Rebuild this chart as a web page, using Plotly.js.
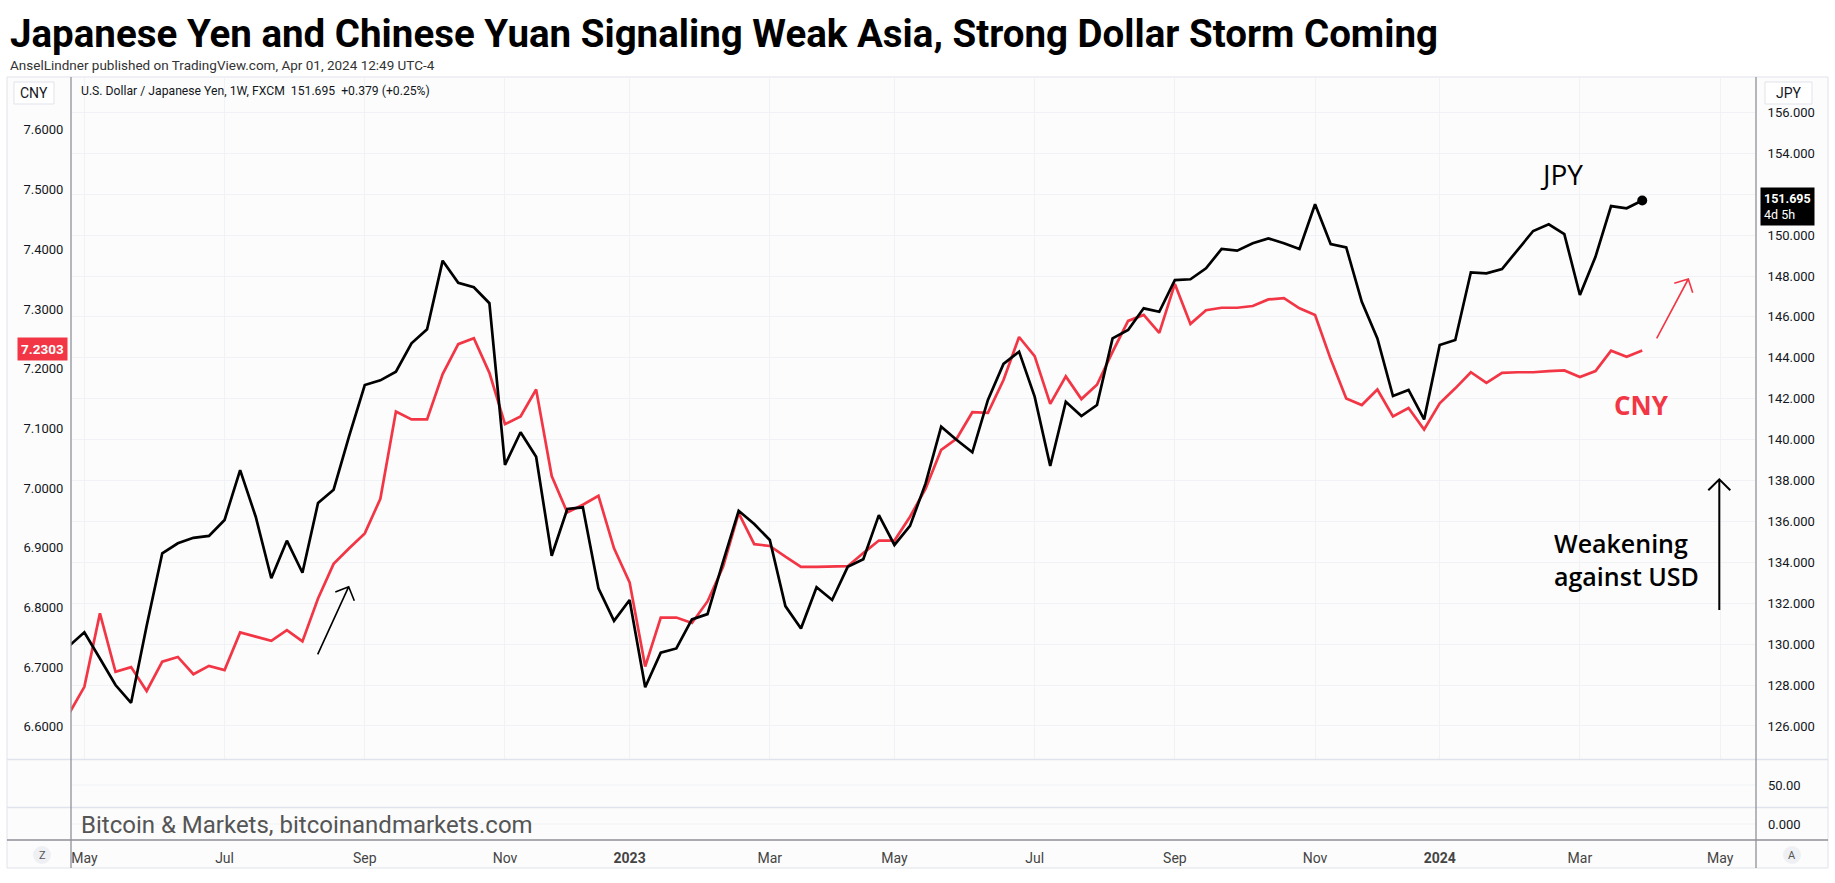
<!DOCTYPE html>
<html>
<head>
<meta charset="utf-8">
<script src="https://cdn.plot.ly/plotly-3.0.1.min.js"></script>
<style>html,body{margin:0;padding:0;background:#fff;}#chart{width:1835px;height:883px;}</style>
</head>
<body>
<div id="chart"></div>
<script>
// ---------- DATA (weekly closes, week starting Monday) ----------
const weeks = [
"2022-04-25","2022-05-02","2022-05-09","2022-05-16","2022-05-23","2022-05-30","2022-06-06","2022-06-13","2022-06-20","2022-06-27",
"2022-07-04","2022-07-11","2022-07-18","2022-07-25","2022-08-01","2022-08-08","2022-08-15","2022-08-22","2022-08-29","2022-09-05",
"2022-09-12","2022-09-19","2022-09-26","2022-10-03","2022-10-10","2022-10-17","2022-10-24","2022-10-31","2022-11-07","2022-11-14",
"2022-11-21","2022-11-28","2022-12-05","2022-12-12","2022-12-19","2022-12-26","2023-01-02","2023-01-09","2023-01-16","2023-01-23",
"2023-01-30","2023-02-06","2023-02-13","2023-02-20","2023-02-27","2023-03-06","2023-03-13","2023-03-20","2023-03-27","2023-04-03",
"2023-04-10","2023-04-17","2023-04-24","2023-05-01","2023-05-08","2023-05-15","2023-05-22","2023-05-29","2023-06-05","2023-06-12",
"2023-06-19","2023-06-26","2023-07-03","2023-07-10","2023-07-17","2023-07-24","2023-07-31","2023-08-07","2023-08-14","2023-08-21",
"2023-08-28","2023-09-04","2023-09-11","2023-09-18","2023-09-25","2023-10-02","2023-10-09","2023-10-16","2023-10-23","2023-10-30",
"2023-11-06","2023-11-13","2023-11-20","2023-11-27","2023-12-04","2023-12-11","2023-12-18","2023-12-25","2024-01-01","2024-01-08",
"2024-01-15","2024-01-22","2024-01-29","2024-02-05","2024-02-12","2024-02-19","2024-02-26","2024-03-04","2024-03-11","2024-03-18",
"2024-03-25","2024-04-01"];

const usdjpy = [
129.90,130.58,129.30,128.00,127.13,130.90,134.44,134.93,135.20,135.29,
136.07,138.51,136.23,133.22,135.06,133.49,136.90,137.55,140.18,142.67,
142.90,143.32,144.71,145.39,148.75,147.67,147.45,146.67,138.76,140.36,
139.16,134.32,136.61,136.69,132.73,131.14,132.16,127.89,129.58,129.79,
131.21,131.47,134.03,136.52,135.87,135.09,131.86,130.77,132.78,132.16,
133.78,134.15,136.31,134.85,135.78,137.86,140.63,139.98,139.38,141.94,
143.70,144.30,142.10,138.71,141.85,141.15,141.69,144.95,145.36,146.42,
146.25,147.80,147.84,148.38,149.32,149.24,149.60,149.84,149.60,149.32,
151.51,149.56,149.40,146.74,144.95,142.13,142.43,140.99,144.63,144.87,
148.18,148.13,148.34,149.27,150.20,150.53,150.05,147.07,148.94,151.42,
151.31,151.695];

const usdcny = [
6.621,6.667,6.790,6.692,6.700,6.660,6.709,6.717,6.688,6.702,
6.695,6.758,6.751,6.744,6.762,6.743,6.815,6.873,6.899,6.924,
6.982,7.128,7.115,7.115,7.191,7.241,7.251,7.193,7.107,7.120,
7.165,7.020,6.959,6.972,6.987,6.899,6.842,6.701,6.783,6.783,
6.774,6.810,6.868,6.958,6.906,6.903,6.885,6.868,6.868,6.868,
6.869,6.891,6.912,6.912,6.952,6.999,7.064,7.083,7.127,7.126,
7.181,7.253,7.221,7.141,7.187,7.149,7.173,7.228,7.280,7.290,
7.260,7.342,7.275,7.298,7.302,7.302,7.305,7.316,7.318,7.301,
7.290,7.216,7.150,7.139,7.165,7.120,7.134,7.098,7.142,7.167,
7.194,7.176,7.193,7.194,7.194,7.196,7.197,7.186,7.196,7.230,
7.220,7.2303];

const monthTickDates = ["2022-05-02","2022-07-04","2022-09-05","2022-11-07","2023-01-02","2023-03-06","2023-05-01",
                        "2023-07-03","2023-09-04","2023-11-06","2024-01-01","2024-03-04","2024-05-06"];
const monthTickLabels = ["May","Jul","Sep","Nov","<b>2023</b>","Mar","May","Jul","Sep","Nov","<b>2024</b>","Mar","May"];

// right (JPY) axis ticks; 152.000 is hidden under the price label in the original
const jpyTickVals = [126,128,130,132,134,136,138,140,142,144,146,148,150,152,154,156];
const jpyTickText = ["126.000","128.000","130.000","132.000","134.000","136.000","138.000","140.000",
                     "142.000","144.000","146.000","148.000","150.000","","154.000","156.000"];

const titleText = "Japanese Yen and Chinese Yuan Signaling Weak Asia, Strong Dollar Storm Coming";
const subtitleText = "AnselLindner published on TradingView.com, Apr 01, 2024 12:49 UTC-4";
const legendText = "U.S. Dollar / Japanese Yen, 1W, FXCM&nbsp;&nbsp;151.695&nbsp;&nbsp;+0.379 (+0.25%)";
const lastJPYLabel = "151.695";
const lastJPYCountdown = "4d 5h";
const lastCNYLabel = "7.2303";
const watermark = "Bitcoin & Markets, bitcoinandmarkets.com";

// ---------- LAYOUT GEOMETRY (pixels) ----------
const W = 1835, H = 883;
const L = 71, R = 1756, T = 77, B = 840;
const PANE_BOTTOM = 759.5;
const px = v => (v - L) / (R - L);
const py = v => (B - v) / (B - T);

const NARROW = "Liberation Sans Narrow, Arial Narrow, Roboto, sans-serif";
const AXISF = "Roboto, Liberation Sans, sans-serif";
const RED = "#F23645";

const traces = [
  {x: weeks, y: usdcny, yaxis: "y", type: "scatter", mode: "lines",
   line: {color: RED, width: 2.7}, hoverinfo: "skip", showlegend: false},
  {x: weeks, y: usdjpy, yaxis: "y2", type: "scatter", mode: "lines",
   line: {color: "#000000", width: 2.7}, hoverinfo: "skip", showlegend: false},
  {x: [weeks[weeks.length-1]], y: [usdjpy[usdjpy.length-1]], yaxis: "y2", type: "scatter", mode: "markers",
   marker: {color: "#000000", size: 10}, hoverinfo: "skip", showlegend: false}
];

function line(x0,y0,x1,y1,color,width){
  return {type:"line", xref:"paper", yref:"paper", x0:px(x0), y0:py(y0), x1:px(x1), y1:py(y1),
          line:{color:color, width:width}, layer:"above"};
}
function path(points,color,width){
  let d = "";
  points.forEach((seg)=>{ seg.forEach((p,i)=>{ d += (i===0?"M ":"L ") + px(p[0]) + "," + py(p[1]) + " "; }); });
  return {type:"path", xref:"paper", yref:"paper", path:d, line:{color:color,width:width}, layer:"above"};
}

const shapes = [
  {type:"rect", xref:"paper", yref:"paper", x0:px(7), x1:px(1828), y0:py(77), y1:py(868),
   fillcolor:"#fcfcfc", line:{color:"#e0e3eb", width:1}, layer:"below"},
  line(7, PANE_BOTTOM, 1828, PANE_BOTTOM, "#e0e3eb", 1.5),
  line(7, 807.5, 1828, 807.5, "#e0e3eb", 1.5),
  line(L, 785, R, 785, "#f0f2f5", 1),
  line(L, 824, R, 824, "#f0f2f5", 1),
  line(L, T, L, 868, "#8f9199", 1.3),
  line(R, T, R, 868, "#8f9199", 1.3),
  line(7, B, 1828, B, "#8f9199", 1.3),
  {type:"rect", xref:"paper", yref:"paper", x0:px(14), x1:px(54), y0:py(82), y1:py(104),
   fillcolor:"#ffffff", line:{color:"#e0e3eb", width:1}, layer:"above"},
  {type:"rect", xref:"paper", yref:"paper", x0:px(1765), x1:px(1812), y0:py(82), y1:py(104),
   fillcolor:"#ffffff", line:{color:"#e0e3eb", width:1}, layer:"above"},
  {type:"circle", xref:"paper", yref:"paper", x0:px(33), x1:px(51), y0:py(846), y1:py(864),
   fillcolor:"#eef0f4", line:{width:0}, layer:"above"},
  {type:"circle", xref:"paper", yref:"paper", x0:px(1783), x1:px(1801), y0:py(846), y1:py(864),
   fillcolor:"#eef0f4", line:{width:0}, layer:"above"},
  path([[[317.7,654.3],[348.7,586.7]], [[335.3,592],[348.7,586.7],[354.3,600.7]]], "#000000", 1.6),
  path([[[1656.7,338.3],[1688.3,279]], [[1674.3,283.3],[1688.3,279],[1692.7,292.7]]], RED, 1.6),
  path([[[1719.3,610],[1719.3,479.3]], [[1708.3,490.3],[1719.3,479.3],[1730.3,490.3]]], "#000000", 2)
];

function ann(text, x, y, opts){
  return Object.assign({text:text, xref:"paper", yref:"paper", x:px(x), y:py(y), showarrow:false,
    xanchor:"left", yanchor:"middle"}, opts||{});
}

const annotations = [
  ann("<b>"+titleText+"</b>", 8, 33, {font:{family:NARROW, size:38.5, color:"#000"}}),
  ann(subtitleText, 8, 65, {font:{family:NARROW, size:13.5, color:"#333"}}),
  ann(legendText, 79, 91, {font:{family:NARROW, size:12.2, color:"#131722"}}),
  ann("CNY", 34, 93, {xanchor:"center", font:{family:NARROW, size:14, color:"#131722"}}),
  ann("JPY", 1788.5, 93, {xanchor:"center", font:{family:NARROW, size:14, color:"#131722"}}),
  ann("<b>"+lastCNYLabel+"</b>", 42, 349.5, {xanchor:"center", bgcolor:RED, borderpad:3,
      font:{family:AXISF, size:13.5, color:"#fff"}}),
  ann("<b>"+lastJPYLabel+"</b><br>"+lastJPYCountdown, 1760, 206.5, {align:"left", bgcolor:"#000", borderpad:3,
      font:{family:AXISF, size:12.5, color:"#fff"}}),
  ann("JPY", 1561.7, 174, {xanchor:"center", font:{family:"Open Sans, sans-serif", size:28, color:"#000"}}),
  ann("<b>CNY</b>", 1641.7, 405, {xanchor:"center", font:{family:"Open Sans, sans-serif", size:26, color:RED}}),
  ann("Weakening<br>against USD", 1552, 559, {align:"left",
      font:{family:"Open Sans, sans-serif", size:25, color:"#000", weight:600}}),
  ann(watermark, 79, 825, {font:{family:NARROW, size:24, color:"#555"}}),
  ann("50.00", 1766, 785, {font:{family:AXISF, size:13, color:"#131722"}}),
  ann("0.000", 1766, 824, {font:{family:AXISF, size:13, color:"#131722"}}),
  ann("Z", 42, 855.5, {xanchor:"center", font:{family:NARROW, size:11, color:"#555"}}),
  ann("A", 1792, 855.5, {xanchor:"center", font:{family:NARROW, size:11, color:"#555"}})
];

const layout = {
  width: W, height: H,
  margin: {l: L, r: W - R, t: T, b: H - B, pad: 0},
  paper_bgcolor: "#ffffff",
  plot_bgcolor: "rgba(0,0,0,0)",
  showlegend: false,
  xaxis: {
    type: "date", range: ["2022-04-26 00:00", "2024-05-22 03:00"],
    anchor: "free", position: 0,
    tickvals: monthTickDates, ticktext: monthTickLabels,
    tickfont: {family: NARROW, size: 14, color: "#444"},
    ticks: "outside", ticklen: 5, tickcolor: "rgba(0,0,0,0)",
    showgrid: true, gridcolor: "#f0f2f5", gridwidth: 1,
    showline: false, zeroline: false, fixedrange: true
  },
  yaxis: {
    domain: [py(PANE_BOTTOM), 1],
    range: [6.5452, 7.6886], side: "left",
    tickmode: "linear", tick0: 6.6, dtick: 0.1, tickformat: ".4f",
    tickfont: {family: AXISF, size: 13, color: "#131722"},
    ticks: "outside", ticklen: 4, tickcolor: "rgba(0,0,0,0)",
    showgrid: false, zeroline: false, showline: false, fixedrange: true
  },
  yaxis2: {
    overlaying: "y", side: "right", anchor: "x",
    range: [124.36, 157.73],
    tickmode: "array", tickvals: jpyTickVals, ticktext: jpyTickText,
    tickfont: {family: AXISF, size: 13, color: "#131722"},
    ticks: "outside", ticklen: 8, tickcolor: "rgba(0,0,0,0)",
    showgrid: true, gridcolor: "#f0f2f5", gridwidth: 1,
    zeroline: false, showline: false, fixedrange: true
  },
  shapes: shapes,
  annotations: annotations
};

Plotly.newPlot("chart", traces, layout, {staticPlot: true, displayModeBar: false});
</script>
</body>
</html>
